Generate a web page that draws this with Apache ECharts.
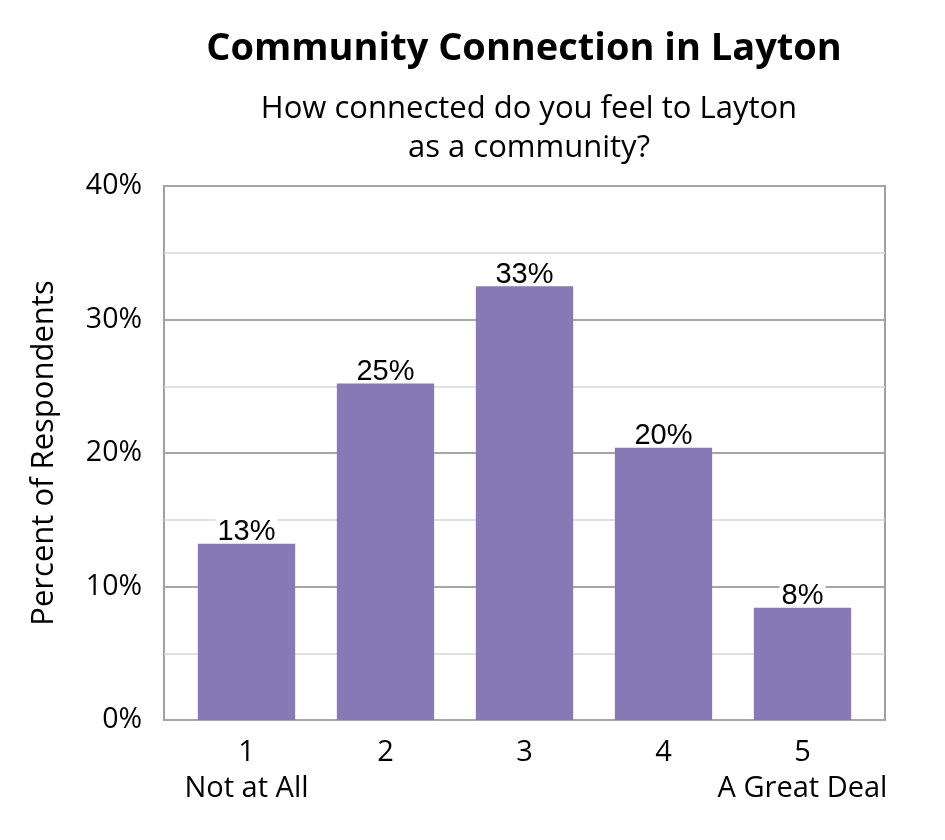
<!DOCTYPE html>
<html>
<head>
<meta charset="utf-8">
<script src="https://cdn.jsdelivr.net/npm/echarts@6/dist/echarts.min.js"></script>
<style>
  html, body { margin: 0; padding: 0; background: #fff; }
  #chart { width: 945px; height: 840px; }
</style>
</head>
<body>
<div id="chart"></div>
<script>
const categories = ["1\nNot at All", "2", "3", "4", "5\nA Great Deal"];
const percents = [13.2, 25.2, 32.5, 20.4, 8.4];
const yTicks = [0, 10, 20, 30, 40];

const yMin = yTicks[0];
const yMax = yTicks[yTicks.length - 1];

const chart = echarts.init(document.getElementById("chart"));
chart.setOption({
  backgroundColor: "#fff",
  title: [
    {
      text: "Community Connection in Layton",
      left: 519,
      top: 25,
      textAlign: "center",
      textStyle: {
        fontFamily: "Open Sans",
        fontWeight: "bold",
        fontSize: 38,
        color: "#000",
      },
    },
    {
      text: "How connected do you feel to Layton\nas a community?",
      left: 524,
      top: 85,
      textAlign: "center",
      textStyle: {
        fontFamily: "Open Sans",
        fontWeight: "normal",
        fontSize: 31,
        lineHeight: 39,
        color: "#000",
      },
    },
  ],
  grid: [
    // frame + gridlines
    {
      left: 164,
      right: 60,
      top: 186,
      bottom: 120,
      show: true,
      borderColor: "#a0a0a0",
      borderWidth: 2,
    },
    // bars sit slightly inset from the frame
    {
      left: 177,
      right: 73,
      top: 186,
      bottom: 120,
    },
  ],
  xAxis: [
    {
      gridIndex: 0,
      type: "value",
      show: false,
    },
    {
      gridIndex: 1,
      type: "category",
      data: categories,
      axisLine: { show: false },
      axisTick: { show: false },
      axisLabel: {
        interval: 0,
        fontFamily: "Open Sans",
        fontSize: 29,
        color: "#000",
        lineHeight: 36,
        margin: 15,
      },
    },
  ],
  yAxis: [
    {
      gridIndex: 0,
      type: "value",
      min: yMin,
      max: yMax,
      interval: 10,
      name: "Percent of Respondents",
      nameLocation: "middle",
      nameGap: 104,
      nameTextStyle: {
        fontFamily: "Open Sans",
        fontSize: 31,
        color: "#000",
      },
      axisLine: { show: false },
      axisTick: { show: false },
      axisLabel: {
        formatter: "{value}%",
        fontFamily: "Open Sans",
        fontSize: 28.5,
        color: "#000",
        margin: 22,
      },
      splitLine: { lineStyle: { color: "#a6a6a6", width: 2 } },
      minorTick: { show: false, splitNumber: 2 },
      minorSplitLine: { show: true, lineStyle: { color: "#d6d6d6", width: 1.5 } },
    },
    {
      gridIndex: 1,
      type: "value",
      min: yMin,
      max: yMax,
      show: false,
      splitLine: { show: false },
    },
  ],
  series: [
    {
      type: "bar",
      xAxisIndex: 1,
      yAxisIndex: 1,
      data: percents,
      barWidth: "70%",
      itemStyle: { color: "#8779b5" },
      label: {
        show: true,
        position: "top",
        distance: 1,
        formatter: (p) => Math.round(p.value) + "%",
        fontFamily: "Liberation Sans",
        fontSize: 29,
        color: "#000",
        backgroundColor: "#fff",
        padding: [0, 2, -4, 2],
      },
    },
  ],
});
</script>
</body>
</html>
